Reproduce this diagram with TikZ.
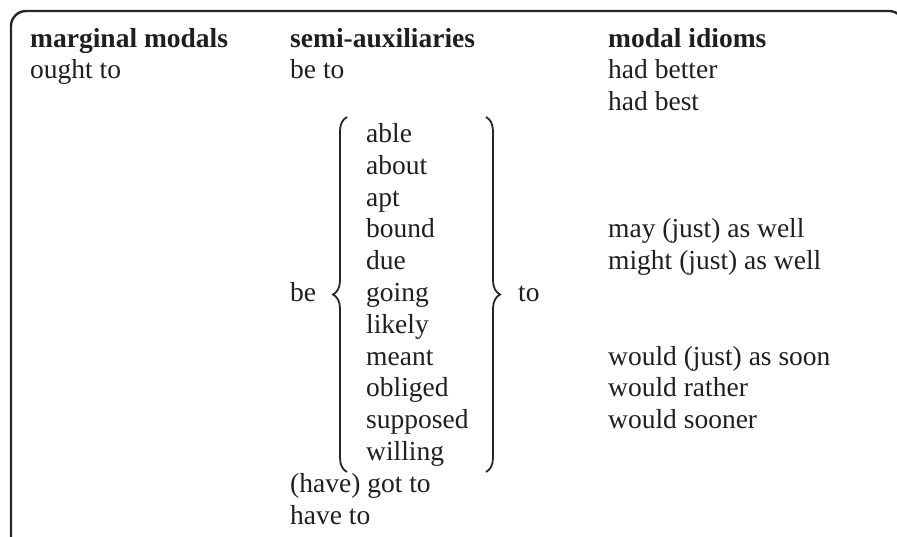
\documentclass[tikz,border=0pt]{standalone}
\usepackage{fontspec}
\setmainfont{Liberation Serif}
\usetikzlibrary{decorations.pathreplacing}

\begin{document}
\begin{tikzpicture}[x=1pt,y=1pt,
  txt/.style={anchor=base west, inner sep=0pt, text=black!88,
              font=\fontsize{27.5}{32}\selectfont},
  head/.style={txt, font=\fontsize{27.5}{32}\selectfont\bfseries},
  frame/.style={line width=2.4pt, draw=black!85, rounded corners=15pt},
  bracepath/.style={decorate, decoration={brace, amplitude=14pt},
                    line width=1.8pt, draw=black!85}]
  % page area
  \useasboundingbox (0,0) rectangle (897,-536);
  \clip (0,0) rectangle (897,-536);

  % open-bottomed frame, running off the right edge
  \coordinate (fBL) at (11,-560);
  \coordinate (fTL) at (11,-11);
  \coordinate (fTR) at (904,-11);
  \coordinate (fBR) at (904,-560);
  \draw[frame] (fBL) -- (fTL) -- (fTR) -- (fBR);

  % column headings
  \node[head] (hMarg) at (30,{-47}) {marginal modals};
  \node[head] (hSemi) at (290,{-47}) {semi-auxiliaries};
  \node[head] (hIdiom) at (608,{-47}) {modal idioms};

  % marginal modals
  \node[txt] (oughtto) at (30,{-47-31.8*1}) {ought to};

  % semi-auxiliaries
  \node[txt] (beto) at (290,{-47-31.8*1}) {be to};
  \node[txt] (be) at (290,{-47-31.8*8}) {be};
  \node[txt] (able) at (366,{-47-31.8*3}) {able};
  \node[txt] (about) at (366,{-47-31.8*4}) {about};
  \node[txt] (apt) at (366,{-47-31.8*5}) {apt};
  \node[txt] (bound) at (366,{-47-31.8*6}) {bound};
  \node[txt] (due) at (366,{-47-31.8*7}) {due};
  \node[txt] (going) at (366,{-47-31.8*8}) {going};
  \node[txt] (likely) at (366,{-47-31.8*9}) {likely};
  \node[txt] (meant) at (366,{-47-31.8*10}) {meant};
  \node[txt] (obliged) at (366,{-47-31.8*11}) {obliged};
  \node[txt] (supposed) at (366,{-47-31.8*12}) {supposed};
  \node[txt] (willing) at (366,{-47-31.8*13}) {willing};
  \node[txt] (to) at (518,{-47-31.8*8}) {to};
  \node[txt] (gotto) at (290,{-47-31.8*14}) {(have) got to};
  \node[txt] (haveto) at (290,{-47-31.8*15}) {have to};

  % braces round the adjective list
  \coordinate (lbBot) at (347,-472);
  \coordinate (lbTop) at (347,-117);
  \coordinate (rbTop) at (486,-117);
  \coordinate (rbBot) at (486,-472);
  \draw[bracepath] (lbBot) -- (lbTop);
  \draw[bracepath] (rbTop) -- (rbBot);

  % modal idioms
  \node[txt] (hadbetter) at (608,{-47-31.8*1}) {had better};
  \node[txt] (hadbest) at (608,{-47-31.8*2}) {had best};
  \node[txt] (maywell) at (608,{-47-31.8*6}) {may (just) as well};
  \node[txt] (mightwell) at (608,{-47-31.8*7}) {might (just) as well};
  \node[txt] (wouldsoon) at (608,{-47-31.8*10}) {would (just) as soon};
  \node[txt] (wouldrather) at (608,{-47-31.8*11}) {would rather};
  \node[txt] (wouldsooner) at (608,{-47-31.8*12}) {would sooner};
\end{tikzpicture}
\end{document}
